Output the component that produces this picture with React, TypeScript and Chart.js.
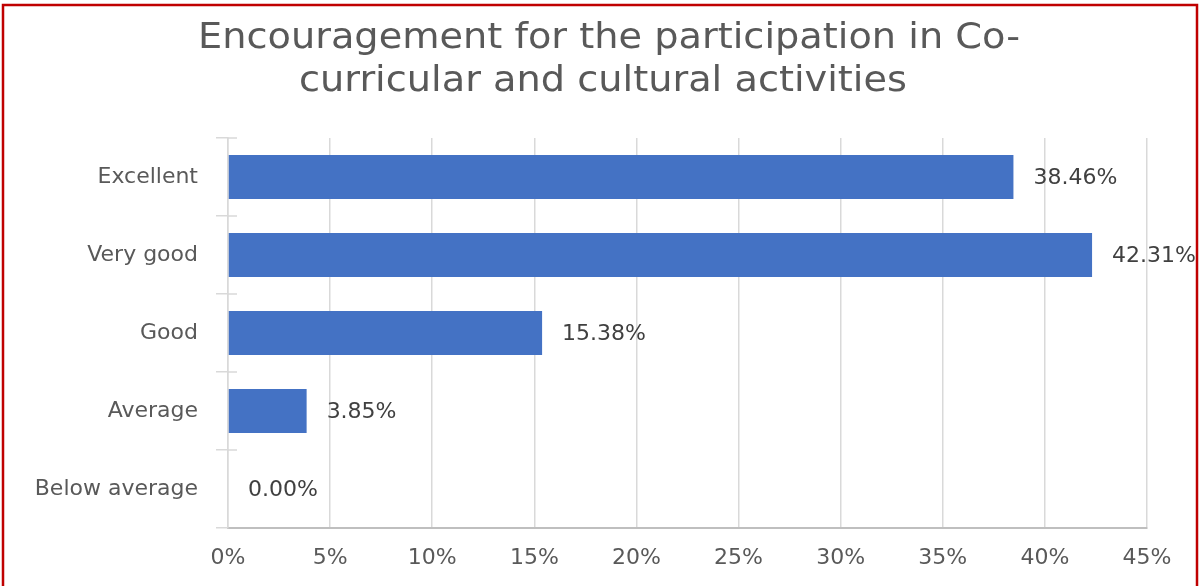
import React, { useEffect, useRef } from "react";
import { Chart, registerables } from "chart.js";

Chart.register(...registerables);

const titleLines = [
  "Encouragement for the participation in Co-",
  "curricular and cultural activities",
];
const categories = ["Excellent", "Very good", "Good", "Average", "Below average"];
const values = [38.46, 42.31, 15.38, 3.85, 0.0];
const xTicksMax = 45;
const xTicksStep = 5;

const FONT = "'DejaVu Sans', Verdana, sans-serif";

const framePlugin = {
  id: "frame",
  afterDraw(chart: any) {
    const ctx = chart.ctx;
    ctx.save();
    ctx.strokeStyle = "#c00000";
    ctx.lineWidth = 2.5;
    ctx.strokeRect(3, 5, chart.width - 6, chart.height + 20);
    ctx.restore();
  },
};

const titlePlugin = {
  id: "twoLineTitle",
  afterDraw(chart: any) {
    const ctx = chart.ctx;
    ctx.save();
    ctx.fillStyle = "#595959";
    ctx.font = `35px ${FONT}`;
    ctx.textAlign = "center";
    ctx.textBaseline = "middle";
    const w = ctx.measureText(titleLines[0]).width;
    const sx = 822 / w;
    ctx.translate(609, 0);
    ctx.scale(sx, 1);
    ctx.fillText(titleLines[0], 0, 39);
    ctx.fillText(titleLines[1], -6 / sx, 82);
    ctx.restore();
  },
};

const crossTickPlugin = {
  id: "crossTicks",
  afterDraw(chart: any) {
    const y = chart.scales.y;
    const x0 = chart.chartArea.left;
    const ctx = chart.ctx;
    const n = categories.length;
    ctx.save();
    ctx.strokeStyle = "#d9d9d9";
    ctx.lineWidth = 1.5;
    ctx.beginPath();
    for (let i = 0; i < n; i++) {
      const py = y.top + (i * y.height) / n;
      ctx.moveTo(x0, py);
      ctx.lineTo(x0 + 9, py);
    }
    ctx.stroke();
    ctx.restore();
  },
};

const valueLabelPlugin = {
  id: "valueLabels",
  afterDatasetsDraw(chart: any) {
    const ctx = chart.ctx;
    const meta = chart.getDatasetMeta(0);
    ctx.save();
    ctx.fillStyle = "#404040";
    ctx.font = `22px ${FONT}`;
    ctx.textAlign = "left";
    ctx.textBaseline = "middle";
    meta.data.forEach((bar: any, i: number) => {
      ctx.fillText(values[i].toFixed(2) + "%", bar.x + 20, bar.y + 1);
    });
    ctx.restore();
  },
};

export default function App() {
  const ref = useRef<HTMLCanvasElement>(null);
  useEffect(() => {
    if (!ref.current) return;
    const chart = new Chart(ref.current, {
      type: "bar",
      data: {
        labels: categories,
        datasets: [
          {
            data: values,
            backgroundColor: "#4472c4",
            borderWidth: 0,
            barPercentage: 0.565,
            categoryPercentage: 1,
          },
        ],
      },
      options: {
        indexAxis: "y",
        animation: false,
        responsive: true,
        maintainAspectRatio: false,
        layout: { padding: { top: 138, right: 53, left: 0, bottom: 0 } },
        plugins: {
          legend: { display: false },
          title: { display: false },
          tooltip: { enabled: false },
        },
        scales: {
          x: {
            min: 0,
            max: xTicksMax,
            afterFit(scale: any) {
              scale.height = 58;
            },
            ticks: {
              stepSize: xTicksStep,
              color: "#595959",
              font: { family: FONT, size: 22 },
              padding: 17,
              callback: (v: any) => v + "%",
            },
            grid: {
              color: "#d9d9d9",
              lineWidth: 1.5,
              drawTicks: false,
            },
            border: { color: "#bfbfbf", width: 2 },
          },
          y: {
            afterFit(scale: any) {
              scale.width = 228;
            },
            ticks: {
              color: "#595959",
              font: { family: FONT, size: 22 },
              padding: 18,
            },
            grid: {
              drawOnChartArea: false,
              drawTicks: true,
              tickLength: 12,
              color: "#d9d9d9",
              lineWidth: 1.5,
              offset: true,
            },
            border: { color: "#d9d9d9", width: 1.5 },
          },
        },
      },
      plugins: [titlePlugin, crossTickPlugin, valueLabelPlugin, framePlugin],
    });
    return () => chart.destroy();
  }, []);
  return (
    <div style={{ position: "absolute", left: 0, top: 0, width: 1200, height: 586, background: "#fff" }}>
      <canvas ref={ref} />
    </div>
  );
}
